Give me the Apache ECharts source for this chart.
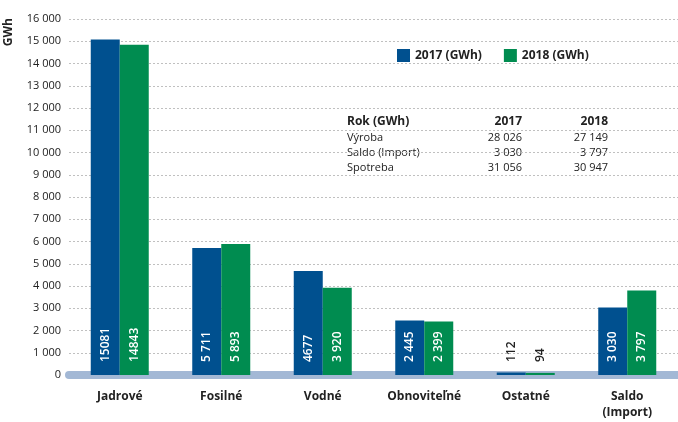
<!DOCTYPE html>
<html><head><meta charset="utf-8">
<script src="https://cdn.jsdelivr.net/npm/echarts@6/dist/echarts.min.js"></script>
<style>html,body{margin:0;padding:0;background:#fff}#c{width:678px;height:422px}</style>
</head><body><div id="c"></div>
<script>
var categories = ['Jadrové', 'Fosilné', 'Vodné', 'Obnoviteľné', 'Ostatné', 'Saldo\n(Import)'];
var values2017 = [15081, 5711, 4677, 2445, 112, 3030];
var values2018 = [14843, 5893, 3920, 2399, 94, 3797];
var labels2017 = ['15081', '5 711', '4677', '2 445', '112', '3 030'];
var labels2018 = ['14843', '5 893', '3 920', '2 399', '94', '3 797'];
var seriesNames = ['2017 (GWh)', '2018 (GWh)'];
var tableHeader = ['Rok (GWh)', '2017', '2018'];
var tableRows = ['Výroba', 'Saldo (Import)', 'Spotreba'];
var table2017 = ['28 026', '3 030', '31 056'];
var table2018 = ['27 149', '3 797', '30 947'];

var FONT = 'Open Sans';
var BLUE = '#00508f', GREEN = '#008c50';

function fmt(v){ return v === 0 ? '0' : String(v).replace(/\B(?=(\d{3})+(?!\d))/g, ' '); }

function mkData(vals, labs){
  return vals.map(function(v, i){
    var d = {value: v, label: {formatter: labs[i]}};
    if (v < 1000) d.label.color = '#222';
    return d;
  });
}
var labelCfg = {show: true, position: 'insideBottom', distance: 13, rotate: 90, align: 'left', verticalAlign: 'middle',
  color: '#fff', fontFamily: FONT, fontSize: 12, fontWeight: 600};

var graphics = [
  {type: 'text', left: 3, top: 18, rotation: Math.PI/2, style: {text: 'GWh', font: 'bold 12px "' + FONT + '"', fill: '#222'}}
];
var colX = [347, 522, 608];
graphics.push({type: 'text', x: colX[0], y: 116, style: {text: tableHeader[0], font: 'bold 12px "' + FONT + '"', fill: '#222'}});
graphics.push({type: 'text', x: colX[1], y: 116, style: {text: tableHeader[1], align: 'right', font: 'bold 12px "' + FONT + '"', fill: '#222'}});
graphics.push({type: 'text', x: colX[2], y: 116, style: {text: tableHeader[2], align: 'right', font: 'bold 12px "' + FONT + '"', fill: '#222'}});
tableRows.forEach(function(r, i){
  var y = 132 + i * 15;
  graphics.push({type: 'text', x: colX[0], y: y, style: {text: r, font: '11px "' + FONT + '"', fill: '#222'}});
  graphics.push({type: 'text', x: colX[1], y: y, style: {text: table2017[i], align: 'right', font: '11px "' + FONT + '"', fill: '#222'}});
  graphics.push({type: 'text', x: colX[2], y: y, style: {text: table2018[i], align: 'right', font: '11px "' + FONT + '"', fill: '#222'}});
});

var chart = echarts.init(document.getElementById('c'));
chart.setOption({
  animation: false,
  grid: {left: 69, width: 612, top: 19, height: 356, containLabel: false},
  legend: {
    top: 44, left: 392, itemWidth: 13, itemHeight: 13, itemGap: 22, icon: 'rect',
    textStyle: {fontFamily: FONT, fontSize: 12, fontWeight: 'bold', color: '#222'},
    data: seriesNames
  },
  xAxis: {
    type: 'category', data: categories, offset: 4,
    axisLine: {lineStyle: {color: '#a3b8d5', width: 8}},
    axisTick: {show: false},
    axisLabel: {fontFamily: FONT, fontSize: 12, fontWeight: 'bold', color: '#222', margin: 10, lineHeight: 16, interval: 0}
  },
  yAxis: {
    type: 'value', min: 0, max: 16000, interval: 1000,
    axisLine: {show: false}, axisTick: {show: false},
    axisLabel: {fontFamily: FONT, fontSize: 11, color: '#222', margin: 8, formatter: fmt},
    splitLine: {lineStyle: {color: '#c0c0c0', type: [2, 2], width: 1}}
  },
  series: [
    {name: seriesNames[0], type: 'bar', data: mkData(values2017, labels2017), itemStyle: {color: BLUE},
     barGap: '0%', barWidth: 29, label: labelCfg},
    {name: seriesNames[1], type: 'bar', data: mkData(values2018, labels2018), itemStyle: {color: GREEN},
     barGap: '0%', barWidth: 29, label: labelCfg}
  ],
  graphic: graphics
});
</script></body></html>
